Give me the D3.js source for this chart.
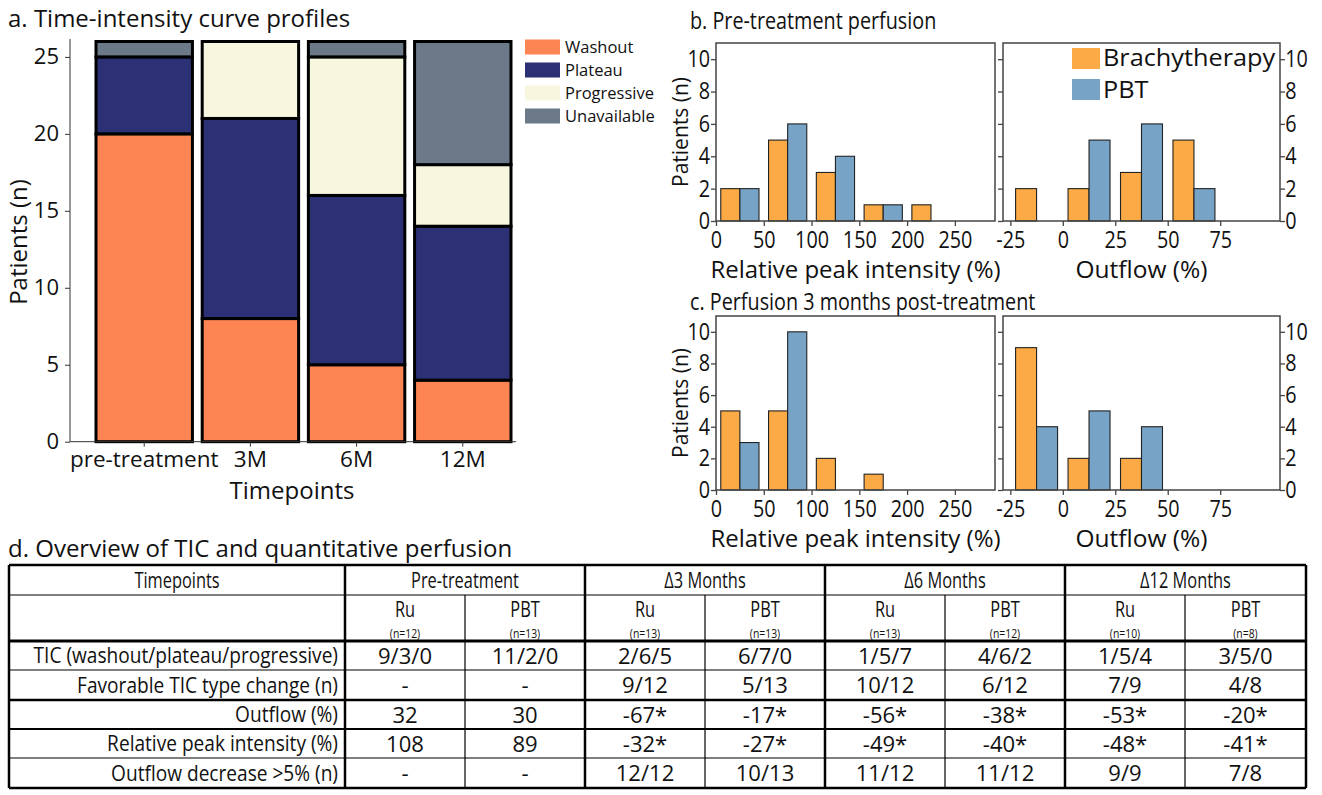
<!DOCTYPE html>
<html><head><meta charset="utf-8">
<script src="https://cdn.jsdelivr.net/npm/d3@7"></script>
<style>
body{margin:0;background:#fff}
svg{display:block}
text{font-family:"Open Sans",sans-serif;fill:#111}
</style>
</head><body>
<svg id="chart" width="1322" height="795"></svg>
<script>
// ---------------- DATA ----------------
const timepoints = ["pre-treatment", "3M", "6M", "12M"];
const ticTypes = ["Washout", "Plateau", "Progressive", "Unavailable"];
const washout = [20, 8, 5, 4];
const plateau = [5, 13, 11, 10];
const progressive = [0, 5, 9, 4];
const unavailable = [1, 0, 1, 8];
const ticColors = ["#FC8553", "#2B3174", "#F7F7DF", "#6B7988"];
const panelATicks = [0, 5, 10, 15, 20, 25];

const relBinStarts = [0, 50, 100, 150, 200, 250];
const outBinStarts = [-25, 0, 25, 50, 75];
const relBinWidth = 50;
const outBinWidth = 25;
const preRelBrachy = [2, 5, 3, 1, 1, 0];
const preRelPBT = [2, 6, 4, 1, 0, 0];
const preOutBrachy = [2, 2, 3, 5, 0];
const preOutPBT = [0, 5, 6, 2, 0];
const postRelBrachy = [5, 5, 2, 1, 0, 0];
const postRelPBT = [3, 10, 0, 0, 0, 0];
const postOutBrachy = [9, 2, 2, 0, 0];
const postOutPBT = [4, 5, 4, 0, 0];
const relTicks = [0, 50, 100, 150, 200, 250];
const outTicks = [-25, 0, 25, 50, 75];
const countTicks = [0, 2, 4, 6, 8, 10];
const groupNames = ["Brachytherapy", "PBT"];
const groupColors = ["#FBAA45", "#77A3C7"];

const tableGroups = ["Pre-treatment", "\u03943 Months", "\u03946 Months", "\u039412 Months"];
const tableSub = ["Ru", "PBT", "Ru", "PBT", "Ru", "PBT", "Ru", "PBT"];
const tableN = [12, 13, 13, 13, 13, 12, 10, 8];
const rowLabels = ["TIC (washout/plateau/progressive)", "Favorable TIC type change (n)", "Outflow (%)", "Relative peak intensity (%)", "Outflow decrease >5% (n)"];
const ticRow = ["9/3/0", "11/2/0", "2/6/5", "6/7/0", "1/5/7", "4/6/2", "1/5/4", "3/5/0"];
const favRow = ["-", "-", "9/12", "5/13", "10/12", "6/12", "7/9", "4/8"];
const outflowRow = ["32", "30", "-67*", "-17*", "-56*", "-38*", "-53*", "-20*"];
const rpiRow = ["108", "89", "-32*", "-27*", "-49*", "-40*", "-48*", "-41*"];
const decRow = ["-", "-", "12/12", "10/13", "11/12", "11/12", "9/9", "7/8"];

// ---------------- HELPERS ----------------
const svg = d3.select("#chart");
function txt(g, x, y, s, size, anchor, sx) {
  return g.append("text")
    .attr("transform", `translate(${x},${y}) scale(${sx || 1},1)`)
    .attr("text-anchor", anchor || "start")
    .attr("font-size", size)
    .text(s);
}
const plain = d => String(d);

// ---------------- PANEL A ----------------
const gA = svg.append("g");
txt(gA, 8, 27, "a. Time-intensity curve profiles", 24, "start", 1.0);

const xA = d3.scaleBand().domain(timepoints).range([90.7, 516.3]).paddingInner(0.092).paddingOuter(0.05);
const yA = d3.scaleLinear().domain([0, 26]).range([441.7, 41.5]);

const rowsA = timepoints.map((t, i) => ({
  t: t, Washout: washout[i], Plateau: plateau[i], Progressive: progressive[i], Unavailable: unavailable[i]
}));
const stackA = d3.stack().keys(ticTypes)(rowsA);
stackA.forEach((layer, li) => {
  gA.append("g").selectAll("rect").data(layer.filter(d => d[1] - d[0] > 0)).join("rect")
    .attr("x", d => xA(d.data.t))
    .attr("width", xA.bandwidth())
    .attr("y", d => yA(d[1]))
    .attr("height", d => yA(d[0]) - yA(d[1]))
    .attr("fill", ticColors[li])
    .attr("stroke", "#000")
    .attr("stroke-width", 3);
});

const axAY = gA.append("g").attr("transform", "translate(70,0)")
  .call(d3.axisLeft(yA).tickValues(panelATicks).tickSize(5).tickPadding(6));
axAY.select(".domain").remove();
axAY.append("line").attr("x1", 0).attr("x2", 0).attr("y1", yA(0)).attr("y2", 39).attr("stroke", "#333");
axAY.selectAll("text").attr("font-size", 22).attr("fill", "#111").attr("font-family", "Open Sans");
axAY.selectAll("line").attr("stroke", "#333");

const axAX = gA.append("g").attr("transform", `translate(0,${yA(0)})`)
  .call(d3.axisBottom(xA).tickSize(5).tickPadding(4));
axAX.select(".domain").remove();
axAX.append("line").attr("x1", 70).attr("x2", 516).attr("y1", 0).attr("y2", 0).attr("stroke", "#333");
axAX.selectAll("text").attr("font-size", 22.5).attr("fill", "#111").attr("font-family", "Open Sans");
axAX.selectAll("line").attr("stroke", "#333");

txt(gA, 292, 499, "Timepoints", 24, "middle");
gA.append("text").attr("transform", "translate(27,242) rotate(-90)")
  .attr("text-anchor", "middle").attr("font-size", 24).text("Patients (n)");

// legend A
ticTypes.forEach((t, i) => {
  const cy = 47 + i * 23;
  gA.append("rect").attr("x", 525).attr("y", cy - 7.5).attr("width", 35).attr("height", 15).attr("fill", ticColors[i]);
  txt(gA, 565, cy + 6, t, 16.5, "start");
});

// ---------------- PANELS B & C ----------------
function histPanel(g, top, bottom, left, right, domain, binStarts, binW, brachy, pbt, ticks, showLeftLabels, showRightAxis, xlabel, xlabelSize) {
  const x = d3.scaleLinear().domain(domain).range([left, right]);
  const y = d3.scaleLinear().domain([0, 11]).range([bottom, top]);
  const bars = [];
  binStarts.forEach((b, i) => {
    bars.push({ x0: b + 0.1 * binW, x1: b + 0.5 * binW, v: brachy[i], c: groupColors[0] });
    bars.push({ x0: b + 0.5 * binW, x1: b + 0.9 * binW, v: pbt[i], c: groupColors[1] });
  });
  g.append("g").selectAll("rect").data(bars.filter(d => d.v > 0)).join("rect")
    .attr("x", d => x(d.x0)).attr("width", d => x(d.x1) - x(d.x0))
    .attr("y", d => y(d.v)).attr("height", d => y(0) - y(d.v))
    .attr("fill", d => d.c).attr("stroke", "#222").attr("stroke-width", 1.1);
  g.append("rect").attr("x", left).attr("y", top).attr("width", right - left).attr("height", bottom - top)
    .attr("fill", "none").attr("stroke", "#444").attr("stroke-width", 1.5);

  const ax = g.append("g").attr("transform", `translate(0,${bottom})`)
    .call(d3.axisBottom(x).tickValues(ticks).tickSize(5).tickPadding(6).tickFormat(plain));
  ax.select(".domain").remove();
  ax.selectAll("line").attr("stroke", "#444").attr("stroke-width", 1.3);
  ax.selectAll("text").attr("font-size", 23).attr("fill", "#111").attr("font-family", "Open Sans").attr("transform", "scale(0.86,1)");

  const ay = g.append("g").attr("transform", `translate(${left},0)`)
    .call(d3.axisLeft(y).tickValues(countTicks).tickSize(5).tickPadding(2).tickFormat(showLeftLabels ? plain : ""));
  ay.select(".domain").remove();
  ay.selectAll("line").attr("stroke", "#444").attr("stroke-width", 1.3);
  ay.selectAll("text").attr("font-size", 23).attr("fill", "#111").attr("font-family", "Open Sans").attr("transform", "scale(0.86,1)");

  if (showRightAxis) {
    const ar = g.append("g").attr("transform", `translate(${right},0)`)
      .call(d3.axisRight(y).tickValues(countTicks).tickSize(5).tickPadding(1).tickFormat(plain));
    ar.select(".domain").remove();
    ar.selectAll("line").attr("stroke", "#444").attr("stroke-width", 1.3);
    ar.selectAll("text").attr("font-size", 23).attr("fill", "#111").attr("font-family", "Open Sans").attr("transform", "scale(0.86,1)");
  }
  txt(g, (left + right) / 2, bottom + 57, xlabel, xlabelSize, "middle", 1.0);
}

const relDomain = [0, 292];
const outDomain = [-28.5, 103.5];
const gB = svg.append("g");
txt(gB, 690, 29, "b. Pre-treatment perfusion", 23, "start", 0.86);
histPanel(gB, 43, 221, 716, 995, relDomain, relBinStarts, relBinWidth, preRelBrachy, preRelPBT, relTicks, true, false, "Relative peak intensity (%)", 24);
histPanel(gB, 43, 221, 1003, 1280, outDomain, outBinStarts, outBinWidth, preOutBrachy, preOutPBT, outTicks, false, true, "Outflow (%)", 24.5);
gB.append("text").attr("transform", "translate(688,132) rotate(-90)")
  .attr("text-anchor", "middle").attr("font-size", 21).text("Patients (n)");
groupNames.forEach((n, i) => {
  gB.append("rect").attr("x", 1072).attr("y", 48 + i * 31).attr("width", 28).attr("height", 21).attr("fill", groupColors[i]);
  txt(gB, 1103, 66 + i * 32, n, 23, "start", 1.1);
});

const gC = svg.append("g");
txt(gC, 690, 310, "c. Perfusion 3 months post-treatment", 23, "start", 0.86);
histPanel(gC, 316, 490, 716, 995, relDomain, relBinStarts, relBinWidth, postRelBrachy, postRelPBT, relTicks, true, false, "Relative peak intensity (%)", 24);
histPanel(gC, 316, 490, 1003, 1280, outDomain, outBinStarts, outBinWidth, postOutBrachy, postOutPBT, outTicks, false, true, "Outflow (%)", 24.5);
gC.append("text").attr("transform", "translate(688,403) rotate(-90)")
  .attr("text-anchor", "middle").attr("font-size", 21).text("Patients (n)");

// ---------------- TABLE D ----------------
const gD = svg.append("g");
txt(gD, 8, 557, "d. Overview of TIC and quantitative perfusion", 24, "start", 1.0);
const colX = [9, 345, 465, 585, 705, 825, 945, 1065, 1185, 1306];
const rowY = [565, 595, 641, 670, 700, 729, 758, 788];
const line = (x1, y1, x2, y2, w) => gD.append("line").attr("x1", x1).attr("y1", y1).attr("x2", x2).attr("y2", y2)
  .attr("stroke", "#000").attr("stroke-width", w);

const hW = [2.5, 1.2, 3, 1.2, 2.5, 1.8, 1.2, 2.5];
rowY.forEach((y, i) => line(colX[0], y, colX[9], y, hW[i]));
colX.forEach((x, i) => {
  const major = (i === 0 || i === 1 || i === 3 || i === 5 || i === 7 || i === 9);
  if (major) line(x, rowY[0], x, rowY[7], 2.5);
  else line(x, rowY[1], x, rowY[7], 1.2);
});

txt(gD, (colX[0] + colX[1]) / 2, 588, "Timepoints", 21, "middle", 0.78);
tableGroups.forEach((gname, i) => {
  txt(gD, (colX[1 + 2 * i] + colX[3 + 2 * i]) / 2, 588, gname, 21, "middle", 0.78);
});
tableSub.forEach((s, i) => {
  const cx = (colX[1 + i] + colX[2 + i]) / 2;
  txt(gD, cx, 617, s, 21, "middle", 0.78);
  txt(gD, cx, 638, `(n=${tableN[i]})`, 13, "middle", 0.8);
});

const bodyRows = [ticRow, favRow, outflowRow, rpiRow, decRow];
bodyRows.forEach((r, ri) => {
  const cy = (rowY[2 + ri] + rowY[3 + ri]) / 2;
  txt(gD, 338, cy + 7.5, rowLabels[ri], 21, "end", 0.91);
  r.forEach((v, ci) => {
    const cx = (colX[1 + ci] + colX[2 + ci]) / 2;
    txt(gD, cx, cy + 8, v, 21, "middle", 1.05);
  });
});
</script>
</body></html>
